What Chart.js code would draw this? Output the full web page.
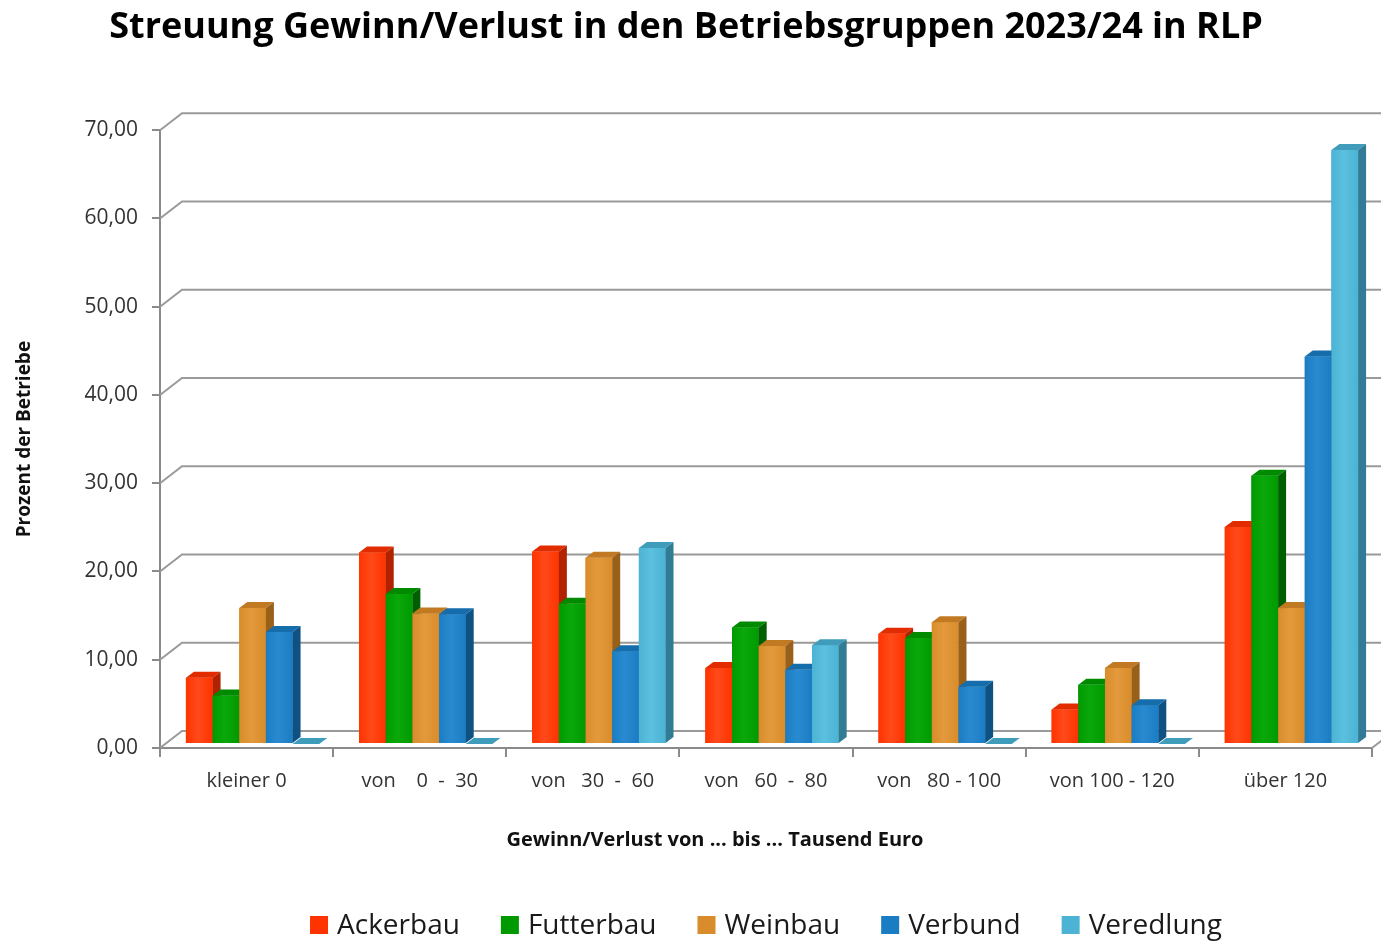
<!DOCTYPE html>
<html>
<head>
<meta charset="utf-8">
<script src="https://cdn.jsdelivr.net/npm/chart.js@4"></script>
<style>
    body { margin: 0; background: #fff; }
</style>
</head>
<body>
<canvas id="grafico" width="1381" height="941"></canvas>
<script>
const kategorien = ['kleiner 0', 'von    0  -  30', 'von   30  -  60', 'von   60  -  80', 'von   80 - 100', 'von 100 - 120', 'über 120'];
const ackerbau  = [7.5, 21.7, 21.8, 8.6, 12.5, 3.9, 24.6];
const futterbau = [5.5, 17.0, 15.9, 13.2, 12.0, 6.7, 30.4];
const weinbau   = [15.4, 14.8, 21.1, 11.1, 13.8, 8.6, 15.4];
const verbund   = [12.7, 14.7, 10.5, 8.4, 6.5, 4.4, 43.9];
const veredlung = [0, 0, 22.2, 11.2, 0, 0, 67.3];
const yTicks = [0, 10, 20, 30, 40, 50, 60, 70];

const farben = [
    { front: '#FF3300', hell: '#FF4A1A', top: '#E22C00', side: '#B02200' },
    { front: '#009A00', hell: '#0AA80A', top: '#008A00', side: '#005F00' },
    { front: '#D98C2B', hell: '#E39A3C', top: '#C27A22', side: '#99601A' },
    { front: '#1A7DC3', hell: '#2A8AD0', top: '#156DAB', side: '#0E5284' },
    { front: '#4CB3D4', hell: '#5CC0DF', top: '#3F9DBB', side: '#317C94' }
];

const SCHRIFT = '"Open Sans", Lato, sans-serif';
const TIEFE_X = 8, TIEFE_Y = 6;       // 3D depth of a bar
const WAND_X = 22, WAND_Y = 17;       // offset of the back wall
const BAR_X = 6, BAR_Y = -4;          // bars sit a little behind the front plane
const X_TITEL = 'Gewinn/Verlust von ... bis ... Tausend Euro';

// back wall grid + 3D bar faces
const dreiD = {
    id: 'dreiD',
    beforeDatasetsDraw(chart) {
        const ctx = chart.ctx;
        const y = chart.scales.y;
        const area = chart.chartArea;
        ctx.save();
        ctx.strokeStyle = '#9a9a9a';
        ctx.lineWidth = 2;
        yTicks.forEach(v => {
            const py = y.getPixelForValue(v);
            ctx.beginPath();
            ctx.moveTo(area.left, py);
            ctx.lineTo(area.left + WAND_X, py - WAND_Y);
            ctx.lineTo(area.right + WAND_X, py - WAND_Y);
            ctx.stroke();
        });
        ctx.beginPath();
        ctx.moveTo(area.right, area.bottom);
        ctx.lineTo(area.right + WAND_X, area.bottom - WAND_Y);
        ctx.stroke();
        ctx.restore();

        ctx.save();
        ctx.translate(BAR_X, BAR_Y);
    },
    afterDatasetsDraw(chart) {
        const ctx = chart.ctx;
        chart.data.datasets.forEach((ds, i) => {
            const meta = chart.getDatasetMeta(i);
            const f = farben[i];
            meta.data.forEach(bar => {
                const l = bar.x - bar.width / 2;
                const r = bar.x + bar.width / 2;
                const t = bar.y;
                const b = bar.base;
                const g = ctx.createLinearGradient(l, 0, r, 0);
                g.addColorStop(0, f.front);
                g.addColorStop(0.45, f.hell);
                g.addColorStop(1, f.front);
                ctx.fillStyle = g;
                ctx.fillRect(l, t, r - l, b - t);
                ctx.fillStyle = f.top;
                ctx.beginPath();
                ctx.moveTo(l, t);
                ctx.lineTo(l + TIEFE_X, t - TIEFE_Y);
                ctx.lineTo(r + TIEFE_X, t - TIEFE_Y);
                ctx.lineTo(r, t);
                ctx.closePath();
                ctx.fill();
                ctx.fillStyle = f.side;
                ctx.beginPath();
                ctx.moveTo(r, t);
                ctx.lineTo(r + TIEFE_X, t - TIEFE_Y);
                ctx.lineTo(r + TIEFE_X, b - TIEFE_Y);
                ctx.lineTo(r, b);
                ctx.closePath();
                ctx.fill();
            });
        });
        ctx.restore();
    },
    afterDraw(chart) {
        const ctx = chart.ctx;
        ctx.save();
        // x axis title
        ctx.fillStyle = '#111';
        ctx.font = 'bold 20px ' + SCHRIFT;
        ctx.textAlign = 'center';
        ctx.textBaseline = 'middle';
        ctx.fillText(X_TITEL, 715, 840);

        // legend
        ctx.font = '28px ' + SCHRIFT;
        ctx.textAlign = 'left';
        const box = 18, gap = 9, abstand = 41;
        const items = chart.data.datasets.map((ds, i) => ({ text: ds.label, farbe: farben[i].front, w: ctx.measureText(ds.label).width }));
        const gesamt = items.reduce((s, it) => s + box + gap + it.w, 0) + abstand * (items.length - 1);
        const area = chart.chartArea;
        let x = (area.left + area.right) / 2 - gesamt / 2;
        const yl = 925;
        items.forEach(it => {
            ctx.fillStyle = it.farbe;
            ctx.fillRect(x, yl - box / 2, box, box);
            ctx.fillStyle = '#1a1a1a';
            ctx.fillText(it.text, x + box + gap, yl + 1);
            x += box + gap + it.w + abstand;
        });
        ctx.restore();
    }
};

const namen = ['Ackerbau', 'Futterbau', 'Weinbau', 'Verbund', 'Veredlung'];
const werte = [ackerbau, futterbau, weinbau, verbund, veredlung];

const ctx = document.getElementById('grafico').getContext('2d');
new Chart(ctx, {
    type: 'bar',
    data: {
        labels: kategorien,
        datasets: namen.map((n, i) => ({
            label: n,
            data: werte[i],
            backgroundColor: farben[i].front,
            borderWidth: 0,
            barPercentage: 1,
            categoryPercentage: 0.77
        }))
    },
    plugins: [dreiD],
    options: {
        responsive: false,
        animation: false,
        layout: { padding: { left: 0, right: 9, top: 0, bottom: 70 } },
        plugins: {
            tooltip: { enabled: false },
            legend: { display: false },
            title: {
                display: true,
                text: 'Streuung Gewinn/Verlust in den Betriebsgruppen 2023/24 in RLP',
                color: '#000',
                font: { family: SCHRIFT, size: 36, weight: 'bold' },
                padding: { top: 6, bottom: 81 }
            }
        },
        scales: {
            x: {
                grid: { drawOnChartArea: false, color: '#8a8a8a', lineWidth: 2, tickLength: 9, offset: true },
                border: { color: '#8a8a8a', width: 2 },
                ticks: { color: '#333', font: { family: SCHRIFT, size: 20 }, padding: 12, maxRotation: 0, autoSkip: false },
                afterFit(s) {
                    s.height = 941 - 70 - 748;
                }
            },
            y: {
                min: 0,
                max: 70,
                grid: { drawOnChartArea: false, color: '#8a8a8a', lineWidth: 2, tickLength: 8 },
                border: { color: '#8a8a8a', width: 2 },
                ticks: {
                    stepSize: 10,
                    color: '#333',
                    padding: 14,
                    font: { family: SCHRIFT, size: 21 },
                    callback: v => v.toFixed(2).replace('.', ',')
                },
                title: {
                    display: true,
                    text: 'Prozent der Betriebe',
                    color: '#111',
                    font: { family: SCHRIFT, size: 19, weight: 'bold' },
                    padding: { top: 13, bottom: 0 }
                },
                afterFit(s) {
                    s.width = 160;
                }
            }
        }
    }
});
</script>
</body>
</html>
